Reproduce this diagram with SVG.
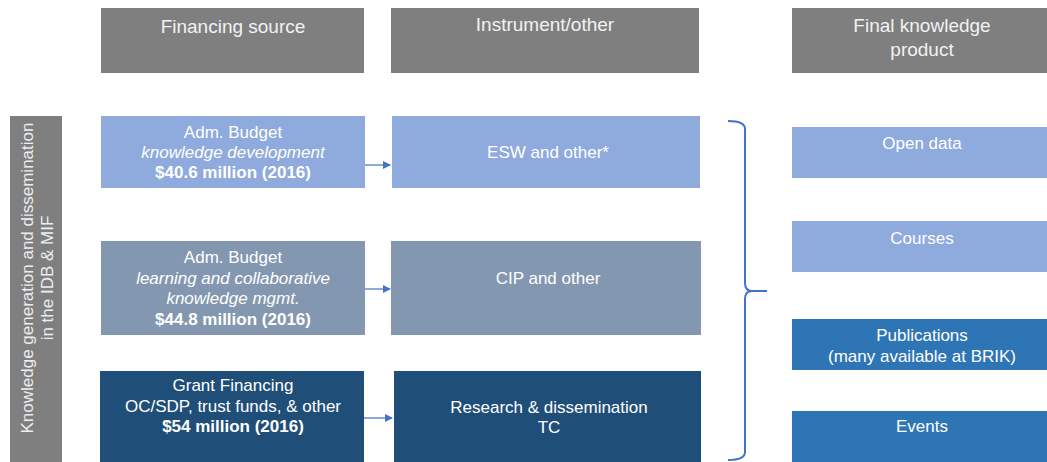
<svg xmlns="http://www.w3.org/2000/svg" width="1047" height="462" viewBox="0 0 1047 462">
<style>
text{font-family:"Liberation Sans",Arial,sans-serif;fill:#ffffff;text-anchor:middle}
.hd{fill:#7f7f7f}
.hdt{font-size:19px;fill:#f2f2f2}
.t{font-size:17px}
.b{font-weight:bold}
.i{font-style:italic}
.c1{fill:#8faadc}
.c2{fill:#8497b0}
.c3{fill:#1f4e79}
.c4{fill:#2e75b6}
.conn{stroke:#4472c4;stroke-width:1.2;fill:none}
.brace{stroke:#4472c4;stroke-width:2;fill:none}
</style>
<defs>
<marker id="ah" markerWidth="8" markerHeight="8" refX="7" refY="4" orient="auto" markerUnits="userSpaceOnUse">
<path d="M0,0 L8,4 L0,8 Z" fill="#4472c4"/>
</marker>
</defs>
<rect width="1047" height="462" fill="#ffffff"/>

<g id="hdr-financing">
<rect class="hd" x="101" y="8" width="263" height="65"/>
<text class="hdt" x="233" y="33">Financing source</text>
</g>
<g id="hdr-instrument">
<rect class="hd" x="391" y="8" width="308" height="65"/>
<text class="hdt" x="545" y="31">Instrument/other</text>
</g>
<g id="hdr-final">
<rect class="hd" x="792" y="8" width="255" height="65"/>
<text class="hdt" x="922" y="32">Final knowledge</text>
<text class="hdt" x="922" y="56">product</text>
</g>

<g id="side-label">
<rect class="hd" x="10" y="116" width="52" height="346"/>
<g transform="translate(36,278) rotate(-90)">
<text class="t" x="0" y="-3" style="fill:#eeeeee">Knowledge generation and dissemination</text>
<text class="t" x="0" y="17" style="fill:#eeeeee">in the IDB &amp; MIF</text>
</g>
</g>

<g id="src-1">
<rect class="c1" x="101" y="116" width="264" height="72"/>
<text class="t" x="233" y="138">Adm. Budget</text>
<text class="t i" x="233" y="158">knowledge development</text>
<text class="t b" x="233" y="178">$40.6 million (2016)</text>
</g>
<g id="src-2">
<rect class="c2" x="101" y="241" width="264" height="94"/>
<text class="t" x="233" y="263">Adm. Budget</text>
<text class="t i" x="233" y="284">learning and collaborative</text>
<text class="t i" x="233" y="304">knowledge mgmt.</text>
<text class="t b" x="233" y="325">$44.8 million (2016)</text>
</g>
<g id="src-3">
<rect class="c3" x="100" y="371" width="264" height="91"/>
<text class="t" x="233" y="391">Grant Financing</text>
<text class="t" x="233" y="412">OC/SDP, trust funds, &amp; other</text>
<text class="t b" x="233" y="432">$54 million (2016)</text>
</g>

<g id="inst-1">
<rect class="c1" x="392" y="116" width="308" height="72"/>
<text class="t" x="548" y="158">ESW and other*</text>
</g>
<g id="inst-2">
<rect class="c2" x="391" y="241" width="310" height="94"/>
<text class="t" x="548" y="284">CIP and other</text>
</g>
<g id="inst-3">
<rect class="c3" x="394" y="371" width="307" height="91"/>
<text class="t" x="549" y="413">Research &amp; dissemination</text>
<text class="t" x="549" y="433">TC</text>
</g>

<g id="fin-open-data">
<rect class="c1" x="792" y="127" width="255" height="51"/>
<text class="t" x="922" y="149">Open data</text>
</g>
<g id="fin-courses">
<rect class="c1" x="792" y="221" width="255" height="51"/>
<text class="t" x="922" y="244">Courses</text>
</g>
<g id="fin-publications">
<rect class="c4" x="792" y="319" width="255" height="51"/>
<text class="t" x="922" y="341">Publications</text>
<text class="t" x="922" y="362">(many available at BRIK)</text>
</g>
<g id="fin-events">
<rect class="c4" x="792" y="411" width="255" height="51"/>
<text class="t" x="922" y="432">Events</text>
</g>

<g id="connectors">
<line class="conn" x1="365" y1="165" x2="390" y2="165" marker-end="url(#ah)"/>
<line class="conn" x1="365" y1="289" x2="390" y2="289" marker-end="url(#ah)"/>
<line class="conn" x1="364" y1="418" x2="392" y2="418" marker-end="url(#ah)"/>
<path class="brace" d="M728,121 Q745,121 745,129 V283 Q745,291 752,291 Q745,291 745,299 V452 Q745,460 728,460"/>
<path class="brace" d="M750,291 H767"/>
</g>
</svg>
